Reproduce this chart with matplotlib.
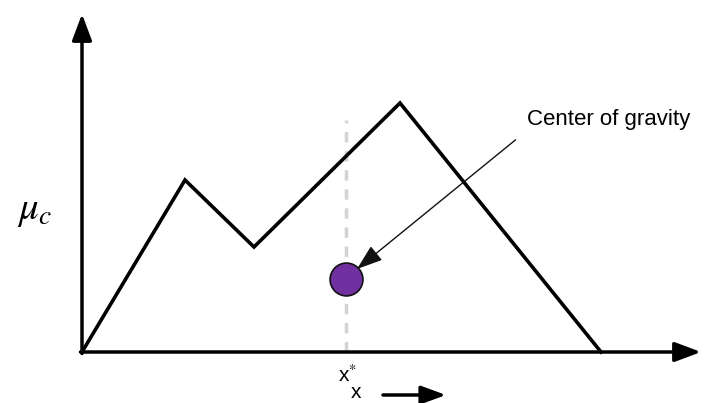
import matplotlib.pyplot as plt

# membership function vertices (x, mu)
x_vals = [0, 103, 172, 318, 519]
mu_vals = [0, 172, 105, 249, 0]
# centroid (x*, mu)
cog_x = 264
cog_y = 73
label_mu = r'$\mu_c$'
label_cog = 'Center of gravity'

plt.rcParams['mathtext.fontset'] = 'stix'

fig = plt.figure(figsize=(7.08, 4.03), dpi=100)
ax = fig.add_axes([0, 0, 1, 1])
ax.set_xlim(-82, 626)
ax.set_ylim(-51, 352)
ax.axis('off')

# axes arrows
ax.annotate('', xy=(619, 0), xytext=(-1.5, 0),
            arrowprops=dict(arrowstyle='-|>,head_length=1.6,head_width=0.6', lw=2.5, color='black',
                            shrinkA=0, shrinkB=0))
ax.annotate('', xy=(0, 338), xytext=(0, -1.5),
            arrowprops=dict(arrowstyle='-|>,head_length=1.6,head_width=0.6', lw=2.5, color='black',
                            shrinkA=0, shrinkB=0))

# dashed vertical through centroid
ax.plot([cog_x, cog_x], [0, 232], color='#d3d3d3', lw=2.5, dashes=(3, 2.5), zorder=1)

# membership polyline
ax.plot(x_vals, mu_vals, color='black', lw=2.6, solid_joinstyle='miter', zorder=2)

# centroid point
ax.scatter([cog_x], [cog_y], s=560, color='#7030a0', edgecolor='#111111', lw=1.2, zorder=4)

ax.annotate(label_cog, xy=(cog_x + 11, cog_y + 10), xytext=(445, 232),
            fontsize=16, family='Liberation Sans', ha='left', va='center',
            arrowprops=dict(arrowstyle='-|>,head_length=1.0,head_width=0.35', lw=1.0, color='#111111',
                            shrinkA=8, shrinkB=0, relpos=(0.0, 0.0)))

ax.text(-47, 142, label_mu, fontsize=28, ha='center', va='center', color='black')

ax.text(cog_x + 2, -23, r'x$^{*}$', fontsize=15, ha='center', va='center', family='Liberation Sans')
ax.text(cog_x + 10, -40.5, 'x', fontsize=15, ha='center', va='center', family='Liberation Sans')
ax.annotate('', xy=(364, -43), xytext=(301, -43),
            arrowprops=dict(arrowstyle='-|>,head_length=1.5,head_width=0.55', lw=2.5, color='black',
                            shrinkA=0, shrinkB=0))

plt.savefig('out.png', dpi=100)
